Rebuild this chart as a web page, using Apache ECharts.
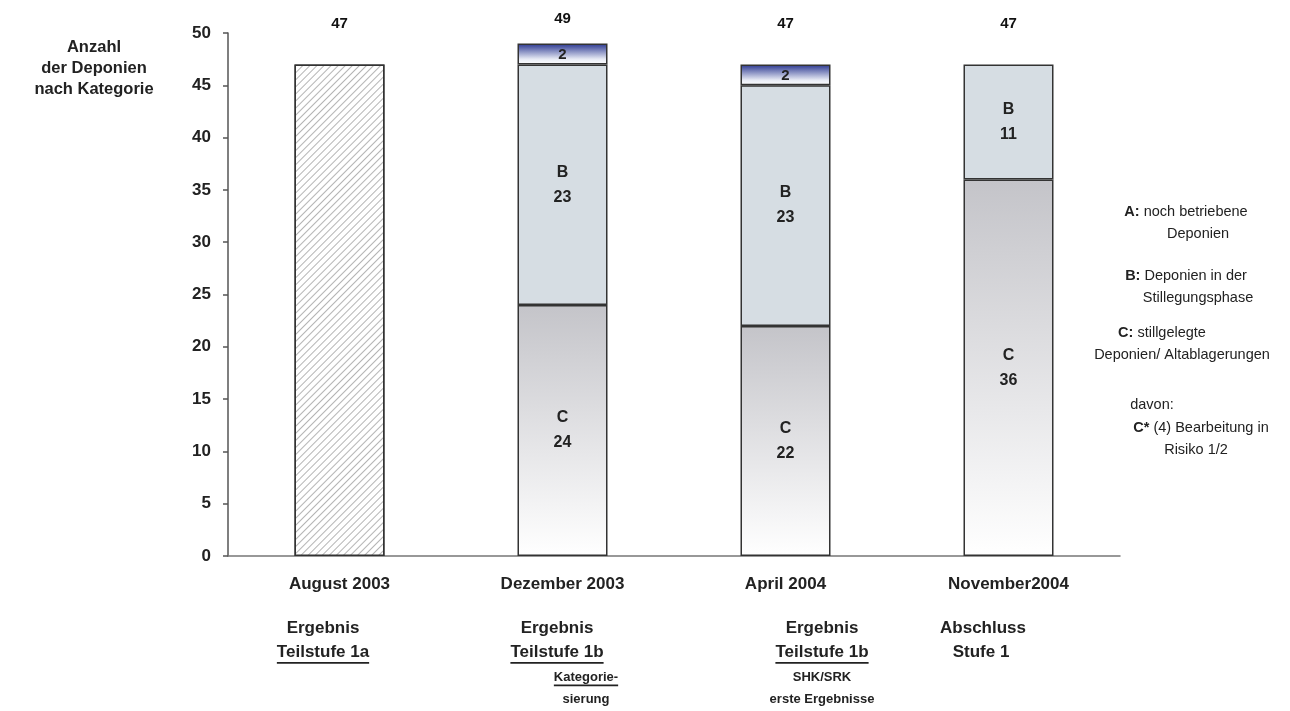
<!DOCTYPE html>
<html>
<head>
<meta charset="utf-8">
<script src="https://cdn.jsdelivr.net/npm/echarts@6/dist/echarts.min.js"></script>
<style>
html,body{margin:0;padding:0;background:#fff;}
#chart{width:1290px;height:711px;}
</style>
</head>
<body>
<div id="chart"></div>
<script>
// ---- data ----
const categories = ['August 2003', 'Dezember 2003', 'April 2004', 'November2004'];
const hatched = [47, null, null, null];          // Teilstufe 1a (uncategorised)
const catC = [null, 24, 22, 36];                  // C: stillgelegte Deponien
const catB = [null, 23, 23, 11];                  // B: Stillegungsphase
const catA = [null, 2, 2, null];                  // A: noch betriebene
const totals = [47, 49, 47, 47];
const yTicks = [0, 5, 10, 15, 20, 25, 30, 35, 40, 45, 50];

const FONT = '"Liberation Sans", Arial, Helvetica, sans-serif';
const chart = echarts.init(document.getElementById('chart'));

const ctx = document.createElement('canvas').getContext('2d');
function textW(t, size, weight) {
  ctx.font = (weight || 'normal') + ' ' + size + 'px ' + FONT;
  return ctx.measureText(t).width;
}

const border = { borderColor: '#333', borderWidth: 1.5 };
const barW = 90;

function grad(top, bottom) {
  return new echarts.graphic.LinearGradient(0, 0, 0, 1, [
    { offset: 0, color: top }, { offset: 1, color: bottom }
  ]);
}

const graphics = [];
function addCenterText(cx, cy, text, size, weight, underline) {
  const w = textW(text, size, weight);
  graphics.push({
    type: 'text', x: cx, y: cy, z: 10,
    style: { text: text, font: (weight || 'normal') + ' ' + size + 'px ' + FONT,
             fill: '#222', align: 'center', verticalAlign: 'middle' }
  });
  if (underline) {
    graphics.push({
      type: 'line', z: 10,
      shape: { x1: cx - w / 2, y1: cy + size * 0.64, x2: cx + w / 2, y2: cy + size * 0.64 },
      style: { stroke: '#222', lineWidth: 1.8 }
    });
  }
}
function addRich(cx, cy, bold, normal, size) {
  graphics.push({
    type: 'text', x: cx, y: cy, z: 10,
    style: {
      text: (bold ? '{b|' + bold + '}' : '') + '{n|' + normal + '}',
      align: 'center', verticalAlign: 'middle',
      rich: {
        b: { fontFamily: FONT, fontWeight: 'bold', fontSize: size, fill: '#222' },
        n: { fontFamily: FONT, fontSize: size, fill: '#222' }
      }
    }
  });
}

// y axis title
addCenterText(94, 47, 'Anzahl', 16.5, 'bold');
addCenterText(94, 68, 'der Deponien', 16.5, 'bold');
addCenterText(94, 89, 'nach Kategorie', 16.5, 'bold');

// labels under the axis
addCenterText(323, 628, 'Ergebnis', 17, 'bold');
addCenterText(323, 652, 'Teilstufe 1a', 17, 'bold', true);
addCenterText(557, 628, 'Ergebnis', 17, 'bold');
addCenterText(557, 652, 'Teilstufe 1b', 17, 'bold', true);
addCenterText(586, 677, 'Kategorie-', 13, 'bold', true);
addCenterText(586, 699, 'sierung', 13, 'bold');
addCenterText(822, 628, 'Ergebnis', 17, 'bold');
addCenterText(822, 652, 'Teilstufe 1b', 17, 'bold', true);
addCenterText(822, 677, 'SHK/SRK', 13, 'bold');
addCenterText(822, 699, 'erste Ergebnisse', 13, 'bold');
addCenterText(983, 628, 'Abschluss', 17, 'bold');
addCenterText(981, 652, 'Stufe 1', 17, 'bold');

// right-side legend text
addRich(1186, 212, 'A:', ' noch betriebene', 14.5);
addRich(1198, 234, '', 'Deponien', 14.5);
addRich(1186, 276, 'B:', ' Deponien in der', 14.5);
addRich(1198, 298, '', 'Stillegungsphase', 14.5);
addRich(1162, 333, 'C:', ' stillgelegte', 14.5);
addRich(1182, 355, '', 'Deponien/ Altablagerungen', 14.5);
addRich(1152, 405, '', 'davon:', 14.5);
addRich(1201, 428, 'C*', ' (4) Bearbeitung in', 14.5);
addRich(1196, 450, '', 'Risiko 1/2', 14.5);

function segLabel(letter) {
  return {
    show: true, position: 'inside', fontFamily: FONT, fontWeight: 'bold', fontSize: 16,
    color: '#222', lineHeight: 25,
    formatter: p => (letter ? letter + '\n' : '') + p.value
  };
}

const option = {
  animation: false,
  backgroundColor: '#fff',
  grid: { left: 228, right: 170, top: 33, bottom: 155 },
  xAxis: {
    type: 'category', data: categories,
    axisLine: { lineStyle: { color: '#777', width: 1.5 } },
    axisTick: { show: false },
    axisLabel: { fontFamily: FONT, fontWeight: 'bold', fontSize: 17, color: '#222', margin: 20 }
  },
  yAxis: {
    type: 'value', min: yTicks[0], max: yTicks[yTicks.length - 1], interval: 5,
    splitLine: { show: false },
    axisLine: { show: true, lineStyle: { color: '#555', width: 1.5 } },
    axisTick: { show: true, length: 5, lineStyle: { color: '#555', width: 1.5 } },
    axisLabel: { fontFamily: FONT, fontWeight: 'bold', fontSize: 17, color: '#222', margin: 17 }
  },
  series: [
    {
      name: 'Teilstufe 1a', type: 'bar', stack: 'all', barWidth: barW, data: hatched,
      itemStyle: Object.assign({
        color: '#fff',
        decal: { symbol: 'rect', symbolSize: 1, dashArrayX: [1, 0], dashArrayY: [1, 3.2],
                 rotation: -Math.PI / 4, color: '#b4b4b4', backgroundColor: '#fff' }
      }, border)
    },
    {
      name: 'C', type: 'bar', stack: 'all', barWidth: barW, data: catC,
      itemStyle: Object.assign({ color: grad('#c4c4c9', '#ffffff') }, border),
      label: segLabel('C')
    },
    {
      name: 'B', type: 'bar', stack: 'all', barWidth: barW, data: catB,
      itemStyle: Object.assign({ color: '#d6dde3' }, border),
      label: segLabel('B')
    },
    {
      name: 'A', type: 'bar', stack: 'all', barWidth: barW, data: catA,
      itemStyle: Object.assign({ color: new echarts.graphic.LinearGradient(0, 0, 0, 1, [
        { offset: 0, color: '#27348f' }, { offset: 0.75, color: '#e8ebf5' }, { offset: 1, color: '#ffffff' }
      ]) }, border),
      label: Object.assign(segLabel(''), { fontSize: 15, lineHeight: 15, offset: [0, 1] })
    },
    {
      name: 'Summe', type: 'scatter', symbol: 'circle', symbolSize: 2, silent: true, z: 20,
      itemStyle: { color: 'rgba(255,255,255,0)' },
      labelLayout: { hideOverlap: false },
      data: totals.map(v => ({ value: v, label: { distance: v >= 49 ? 16 : 32 } })),
      label: { show: true, position: 'top', fontFamily: FONT, fontWeight: 'bold', fontSize: 15,
               color: '#111', opacity: 1, formatter: p => String(p.value) }
    }
  ],
  graphic: graphics
};
chart.setOption(option);
</script>
</body>
</html>
